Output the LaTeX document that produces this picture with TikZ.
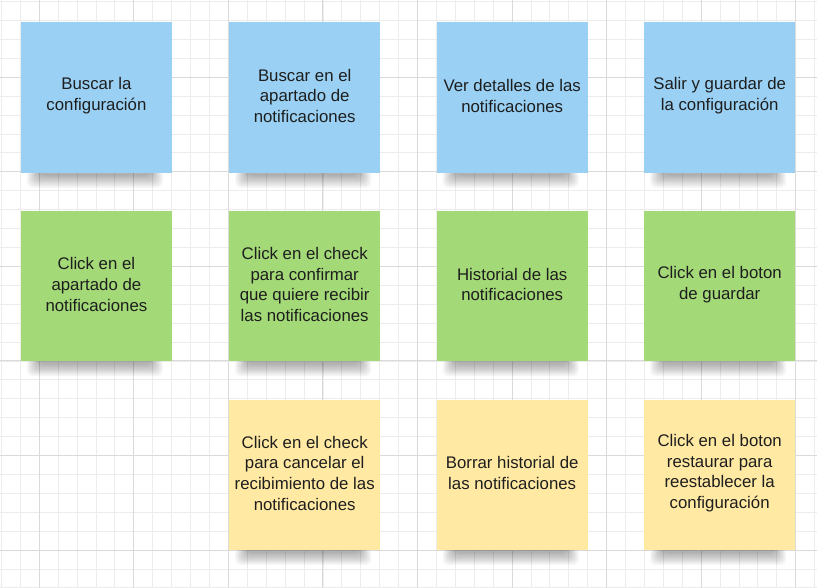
\documentclass[tikz,border=0pt]{standalone}
\usepackage{fontspec}
\setmainfont{Liberation Sans}
\usetikzlibrary{calc}
\definecolor{gminor}{HTML}{ECECEC}
\definecolor{gmajor}{HTML}{DADADA}
\definecolor{sblue}{HTML}{99D0F3}
\definecolor{sgreen}{HTML}{A3D977}
\definecolor{syellow}{HTML}{FFE9A3}
\definecolor{stext}{HTML}{1E1E1E}
\tikzset{
  sticky/.style={rectangle, minimum width=151pt, minimum height=150.5pt, inner sep=0pt,
    anchor=north west},
  bluebox/.style={sticky, fill=sblue},
  greenbox/.style={sticky, fill=sgreen},
  yellowbox/.style={sticky, fill=syellow},
  stxt/.style={align=center, text=stext, inner sep=0pt,
    font=\fontsize{16.8}{20.6}\selectfont},
  shadowlayer/.style={fill=black, opacity=0.028, rounded corners=6pt},
  minorline/.style={draw=gminor, line width=0.9pt},
  majorline/.style={draw=gmajor, line width=1pt}
}
\newcommand{\stickyshadow}[1]{%
  \foreach \k in {0,...,11} {
    \fill[shadowlayer] ([xshift={(6+1.1*\k)*1pt},yshift=3pt]#1.south west)
      rectangle ([xshift={(-9-1.1*\k)*1pt},yshift={(-15+1.1*\k)*1pt}]#1.south east);
  }%
}
\newcommand{\sticky}[5]{%
  \node[#1box] (#2) at (#3,#4) {};
  \node[stxt] (#2t) at ($(#2.center)+(0,-1.5)$) {#5};
}
\begin{document}
\begin{tikzpicture}[x=1pt,y=-1pt]
\useasboundingbox (0,0) rectangle (817,588);
\fill[white] (0,0) rectangle (817,588);
% minor grid
\foreach \i in {0,...,43} {
  \draw[minorline] ({1.48+18.91*\i},0) -- ({1.48+18.91*\i},588);
}
\foreach \i in {0,...,31} {
  \draw[minorline] (0,{1.66+18.91*\i}) -- (817,{1.66+18.91*\i});
}
% major grid
\foreach \i in {0,...,8} {
  \draw[majorline] ({39.3+94.55*\i},0) -- ({39.3+94.55*\i},588);
}
\foreach \i in {-1,0,...,5} {
  \draw[majorline] (0,{77.3+94.55*\i}) -- (817,{77.3+94.55*\i});
}
% shadows (anchors via invisible placeholders)
\foreach \nm/\xx/\yy in {b1/20.7/22, b2/229/22, b3/436.5/22, b4/644/22,
  g1/20.7/210.5, g2/229/210.5, g3/436.5/210.5, g4/644/210.5,
  y2/229/399.3, y3/436.5/399.3, y4/644/399.3} {
  \node[sticky] (s\nm) at (\xx,\yy) {};
  \stickyshadow{s\nm}
}
% row 1
\sticky{blue}{b1}{20.7}{22}{Buscar la\\configuración}
\sticky{blue}{b2}{229}{22}{Buscar en el\\apartado de\\notificaciones}
\sticky{blue}{b3}{436.5}{22}{Ver detalles de las\\notificaciones}
\sticky{blue}{b4}{644}{22}{Salir y guardar de\\la configuración}
% row 2
\sticky{green}{g1}{20.7}{210.5}{Click en el\\apartado de\\notificaciones}
\sticky{green}{g2}{229}{210.5}{Click en el check\\para confirmar\\que quiere recibir\\las notificaciones}
\sticky{green}{g3}{436.5}{210.5}{Historial de las\\notificaciones}
\sticky{green}{g4}{644}{210.5}{Click en el boton\\de guardar}
% row 3
\sticky{yellow}{y2}{229}{399.3}{Click en el check\\para cancelar el\\recibimiento de las\\notificaciones}
\sticky{yellow}{y3}{436.5}{399.3}{Borrar historial de\\las notificaciones}
\sticky{yellow}{y4}{644}{399.3}{Click en el boton\\restaurar para\\reestablecer la\\configuración}
\end{tikzpicture}
\end{document}
